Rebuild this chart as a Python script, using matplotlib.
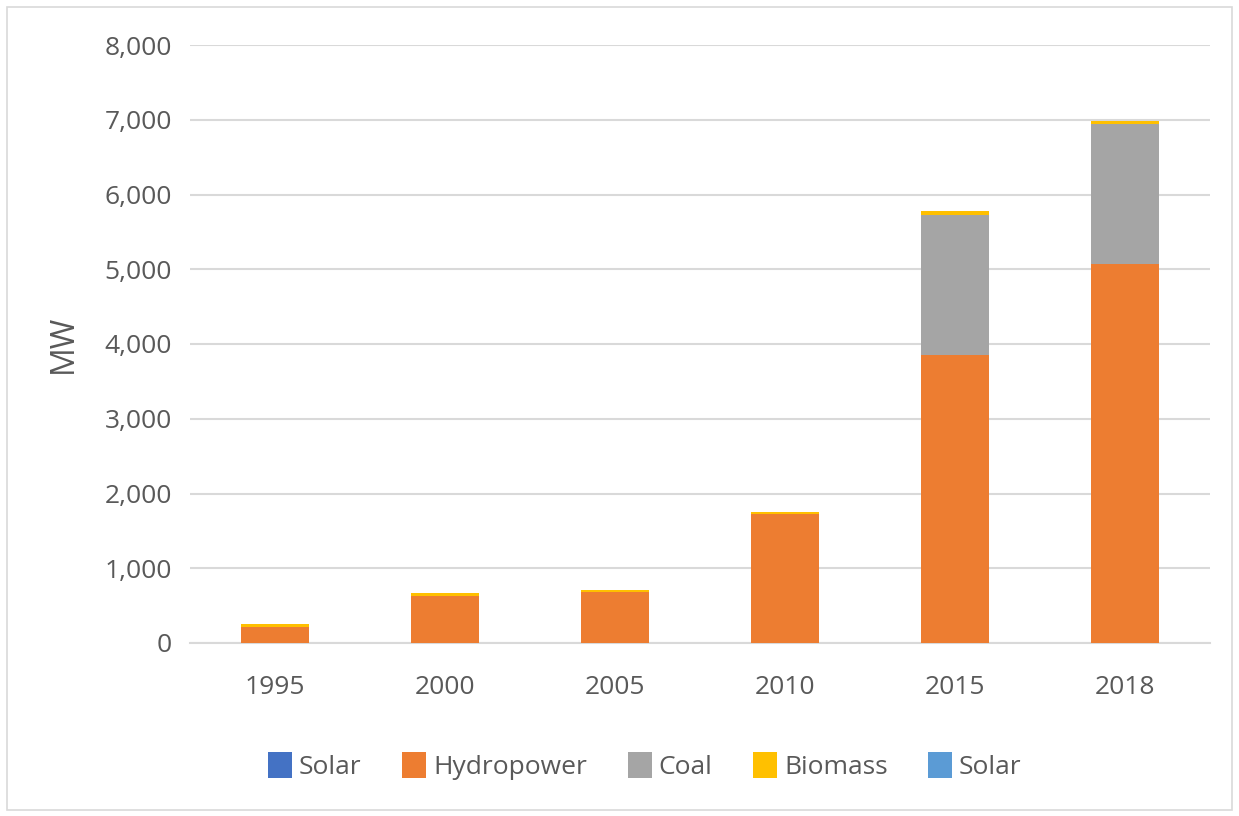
import numpy as np
import matplotlib.pyplot as plt
from matplotlib.patches import Rectangle

plt.rcParams['font.family'] = ['Open Sans', 'DejaVu Sans']

# Installed capacity by source (MW)
years = ["1995", "2000", "2005", "2010", "2015", "2018"]
solar = [0, 0, 0, 0, 0, 0]
hydropower = [210, 630, 680, 1720, 3850, 5070]
coal = [0, 0, 0, 0, 1880, 1870]
biomass = [40, 40, 30, 30, 50, 40]
solar2 = [0, 0, 0, 0, 0, 0]

series = [
    ("Solar", solar, "#4472c4"),
    ("Hydropower", hydropower, "#ed7d31"),
    ("Coal", coal, "#a5a5a5"),
    ("Biomass", biomass, "#ffc000"),
    ("Solar", solar2, "#5b9bd5"),
]

fig = plt.figure(figsize=(12.39, 8.16), dpi=100)
ax = fig.add_axes([190 / 1239, 1 - 643 / 816, 1020 / 1239, 598 / 816])

# thin frame around the whole chart area
fig.add_artist(Rectangle((7 / 1239, 6 / 816), 1225 / 1239, 803 / 816,
                         transform=fig.transFigure, fill=False,
                         edgecolor="#d9d9d9", linewidth=1.2))

x = np.arange(len(years))
bottom = np.zeros(len(years))
handles = []
for name, vals, color in series:
    vals = np.array(vals, dtype=float)
    b = ax.bar(x, vals, width=0.4, bottom=bottom, color=color, label=name,
               zorder=3)
    handles.append(b)
    bottom += vals

ax.set_xlim(-0.5, len(years) - 0.5)
ax.set_ylim(0, 8000)
ax.set_yticks(np.arange(0, 8001, 1000))
ax.set_yticklabels([f"{v:,}" for v in range(0, 8001, 1000)])
ax.set_xticks(x)
ax.set_xticklabels(years)

ax.grid(axis="y", color="#d9d9d9", linewidth=1.5, zorder=0)
for side in ["top", "right", "left"]:
    ax.spines[side].set_visible(False)
ax.spines["bottom"].set_color("#d9d9d9")
ax.spines["bottom"].set_linewidth(1.5)
ax.tick_params(axis="both", length=0, labelsize=19, colors="#595959")
ax.tick_params(axis="y", pad=13)
ax.tick_params(axis="x", pad=23)

ax.set_ylabel("MW", fontsize=23, color="#595959", labelpad=18)

fig.legend(handles=handles, loc="center", bbox_to_anchor=(645 / 1239, 1 - 766 / 816),
           ncol=5, frameon=False, fontsize=19, labelcolor="#595959",
           handlelength=0.9, handleheight=1.1, handletextpad=0.26,
           columnspacing=1.55)

fig.savefig("out.png", dpi=100, facecolor="white")
